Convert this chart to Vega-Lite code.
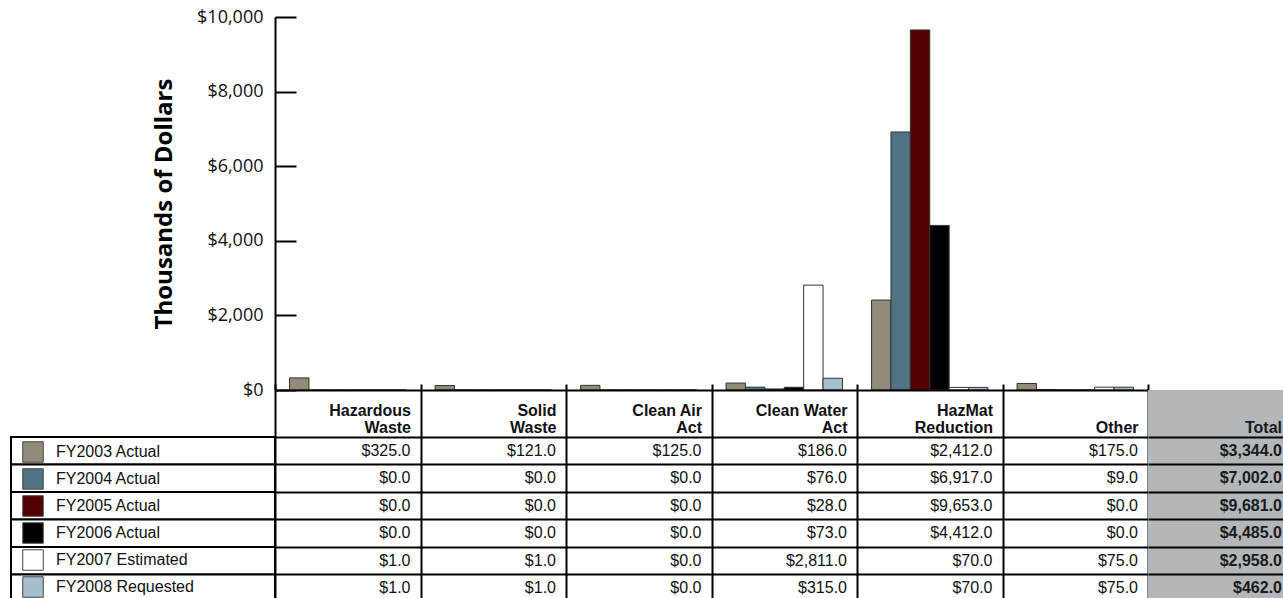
{
  "$schema": "https://vega.github.io/schema/vega-lite/v6.json",
  "padding": {"left": 10, "top": 8, "right": 0, "bottom": 0},
  "background": "#ffffff",
  "columns": 3,
  "spacing": 0,
  "bounds": "flush",
  "align": "each",
  "datasets": {
    "budget": [
      {"category": "Hazardous Waste", "series": "FY2003 Actual", "value": 325},
      {"category": "Hazardous Waste", "series": "FY2004 Actual", "value": 0},
      {"category": "Hazardous Waste", "series": "FY2005 Actual", "value": 0},
      {"category": "Hazardous Waste", "series": "FY2006 Actual", "value": 0},
      {"category": "Hazardous Waste", "series": "FY2007 Estimated", "value": 1},
      {"category": "Hazardous Waste", "series": "FY2008 Requested", "value": 1},
      {"category": "Solid Waste", "series": "FY2003 Actual", "value": 121},
      {"category": "Solid Waste", "series": "FY2004 Actual", "value": 0},
      {"category": "Solid Waste", "series": "FY2005 Actual", "value": 0},
      {"category": "Solid Waste", "series": "FY2006 Actual", "value": 0},
      {"category": "Solid Waste", "series": "FY2007 Estimated", "value": 1},
      {"category": "Solid Waste", "series": "FY2008 Requested", "value": 1},
      {"category": "Clean Air Act", "series": "FY2003 Actual", "value": 125},
      {"category": "Clean Air Act", "series": "FY2004 Actual", "value": 0},
      {"category": "Clean Air Act", "series": "FY2005 Actual", "value": 0},
      {"category": "Clean Air Act", "series": "FY2006 Actual", "value": 0},
      {"category": "Clean Air Act", "series": "FY2007 Estimated", "value": 0},
      {"category": "Clean Air Act", "series": "FY2008 Requested", "value": 0},
      {"category": "Clean Water Act", "series": "FY2003 Actual", "value": 186},
      {"category": "Clean Water Act", "series": "FY2004 Actual", "value": 76},
      {"category": "Clean Water Act", "series": "FY2005 Actual", "value": 28},
      {"category": "Clean Water Act", "series": "FY2006 Actual", "value": 73},
      {"category": "Clean Water Act", "series": "FY2007 Estimated", "value": 2811},
      {"category": "Clean Water Act", "series": "FY2008 Requested", "value": 315},
      {"category": "HazMat Reduction", "series": "FY2003 Actual", "value": 2412},
      {"category": "HazMat Reduction", "series": "FY2004 Actual", "value": 6917},
      {"category": "HazMat Reduction", "series": "FY2005 Actual", "value": 9653},
      {"category": "HazMat Reduction", "series": "FY2006 Actual", "value": 4412},
      {"category": "HazMat Reduction", "series": "FY2007 Estimated", "value": 70},
      {"category": "HazMat Reduction", "series": "FY2008 Requested", "value": 70},
      {"category": "Other", "series": "FY2003 Actual", "value": 175},
      {"category": "Other", "series": "FY2004 Actual", "value": 9},
      {"category": "Other", "series": "FY2005 Actual", "value": 0},
      {"category": "Other", "series": "FY2006 Actual", "value": 0},
      {"category": "Other", "series": "FY2007 Estimated", "value": 75},
      {"category": "Other", "series": "FY2008 Requested", "value": 75}
    ],
    "totals": [
      {"column": "Total", "series": "FY2003 Actual", "total": 3344},
      {"column": "Total", "series": "FY2004 Actual", "total": 7002},
      {"column": "Total", "series": "FY2005 Actual", "total": 9681},
      {"column": "Total", "series": "FY2006 Actual", "total": 4485},
      {"column": "Total", "series": "FY2007 Estimated", "total": 2958},
      {"column": "Total", "series": "FY2008 Requested", "total": 462}
    ]
  },
  "concat": [
    {
      "width": 264, "height": 373,
      "data": {"values": [{}]},
      "mark": {"type": "text", "text": ""},
      "encoding": {}
    },
    {
      "width": 873, "height": 373,
      "data": {"name": "budget"},
      "mark": {"type": "bar", "stroke": "#333333", "strokeWidth": 1},
      "encoding": {
        "x": {"field": "category", "type": "nominal", "sort": ["Hazardous Waste", "Solid Waste", "Clean Air Act", "Clean Water Act", "HazMat Reduction", "Other"], "scale": {"paddingInner": 0.2, "paddingOuter": 0.1}, "axis": null},
        "xOffset": {"field": "series", "type": "nominal", "sort": ["FY2003 Actual", "FY2004 Actual", "FY2005 Actual", "FY2006 Actual", "FY2007 Estimated", "FY2008 Requested"], "scale": {"paddingInner": 0, "paddingOuter": 0}},
        "y": {"field": "value", "type": "quantitative", "scale": {"domain": [0, 10000], "nice": false},
          "axis": {"values": [0, 2000, 4000, 6000, 8000, 10000], "labelExpr": "'$' + format(datum.value, ',')", "title": "Thousands of Dollars", "titleFont": "Open Sans", "titleFontSize": 24, "titleFontWeight": "bold", "titleColor": "#000000", "titlePadding": 20, "labelFont": "Open Sans", "labelFontSize": 18, "labelColor": "#111111", "domainColor": "#000000", "domainWidth": 2, "tickColor": "#000000", "tickWidth": 2, "tickSize": -21, "labelPadding": 33, "grid": false}},
        "color": {"field": "series", "type": "nominal", "sort": ["FY2003 Actual", "FY2004 Actual", "FY2005 Actual", "FY2006 Actual", "FY2007 Estimated", "FY2008 Requested"],
          "scale": {"domain": ["FY2003 Actual", "FY2004 Actual", "FY2005 Actual", "FY2006 Actual", "FY2007 Estimated", "FY2008 Requested"], "range": ["#938b79", "#517283", "#520000", "#000000", "#ffffff", "#a3bfd0"]},
          "legend": {"orient": "none", "legendX": 11, "legendY": 424, "title": null, "symbolType": "square", "symbolSize": 420, "symbolStrokeColor": "#444444", "symbolStrokeWidth": 1, "symbolOpacity": 1, "labelFont": "Liberation Sans", "labelFontSize": 16, "labelColor": "#111111", "labelOffset": 12, "rowPadding": 1, "padding": 0, "labelLimit": 300}}
      }
    },
    {
      "width": 136, "height": 373,
      "data": {"values": [{}]},
      "mark": {"type": "text", "text": ""},
      "encoding": {}
    },
    {
      "width": 264, "height": 212,
      "data": {"name": "totals"},
      "mark": {"type": "rect", "fill": "#ffffff", "stroke": "#000000", "strokeWidth": 2},
      "encoding": {
        "y": {"field": "series", "type": "nominal", "sort": ["FY2003 Actual", "FY2004 Actual", "FY2005 Actual", "FY2006 Actual", "FY2007 Estimated", "FY2008 Requested"], "scale": {"paddingInner": 0, "paddingOuter": 0.8545, "align": 1}, "axis": null}
      }
    },
    {
      "width": 873, "height": 212,
      "data": {"name": "budget"},
      "mark": {"type": "text", "align": "right", "baseline": "middle", "dx": -10, "font": "Liberation Sans", "fontSize": 16, "color": "#111111"},
      "encoding": {
        "x": {"field": "category", "type": "nominal", "sort": ["Hazardous Waste", "Solid Waste", "Clean Air Act", "Clean Water Act", "HazMat Reduction", "Other"], "bandPosition": 1, "scale": {"type": "band", "paddingInner": 0, "paddingOuter": 0},
          "axis": {"orient": "top", "title": null, "domainColor": "#000000", "domainWidth": 2, "ticks": true, "tickBand": "extent", "tickSize": 6, "tickColor": "#000000", "tickWidth": 2, "grid": true, "gridColor": "#000000", "gridWidth": 2, "gridOpacity": 1, "labelAngle": 0, "labelAlign": "right", "labelBaseline": "bottom", "labelOffset": 62.75, "labelPadding": -34, "labelFont": "Liberation Sans", "labelFontWeight": "bold", "labelFontSize": 16, "labelColor": "#111111", "labelLineHeight": 17, "labelBound": false, "labelOverlap": false, "labelFlush": false,
            "labelExpr": "lastindexof(datum.label, ' ') < 0 ? ['', datum.label] : [substring(datum.label, 0, lastindexof(datum.label, ' ')), substring(datum.label, lastindexof(datum.label, ' ') + 1)]"}},
        "y": {"field": "series", "type": "nominal", "sort": ["FY2003 Actual", "FY2004 Actual", "FY2005 Actual", "FY2006 Actual", "FY2007 Estimated", "FY2008 Requested"], "scale": {"paddingInner": 0, "paddingOuter": 0.8545, "align": 1},
          "axis": {"grid": true, "tickBand": "extent", "labels": false, "ticks": false, "domain": false, "title": null, "gridColor": "#000000", "gridWidth": 2, "gridOpacity": 1}},
        "text": {"field": "value", "type": "quantitative", "format": "$,.1f"}
      }
    },
    {
      "width": 136, "height": 212,
      "data": {"name": "totals"},
      "view": {"fill": "#b3b7b9", "stroke": null},
      "mark": {"type": "text", "align": "right", "baseline": "middle", "dx": -2, "font": "Liberation Sans", "fontSize": 16, "fontWeight": "bold", "color": "#1a1a1a"},
      "encoding": {
        "x": {"field": "column", "type": "nominal", "bandPosition": 1, "scale": {"type": "band", "domain": ["Total"], "paddingInner": 0, "paddingOuter": 0},
          "axis": {"orient": "top", "title": null, "domain": false, "ticks": false, "grid": false, "labelAngle": 0, "labelAlign": "right", "labelBaseline": "bottom", "labelOffset": 66, "labelPadding": -45, "labelFont": "Liberation Sans", "labelFontWeight": "bold", "labelFontSize": 16, "labelColor": "#1a1a1a", "labelBound": false, "labelOverlap": false, "labelFlush": false}},
        "y": {"field": "series", "type": "nominal", "sort": ["FY2003 Actual", "FY2004 Actual", "FY2005 Actual", "FY2006 Actual", "FY2007 Estimated", "FY2008 Requested"], "scale": {"paddingInner": 0, "paddingOuter": 0.8545, "align": 1},
          "axis": {"grid": true, "tickBand": "extent", "labels": false, "ticks": false, "domain": false, "title": null, "gridColor": "#000000", "gridWidth": 2, "gridOpacity": 1}},
        "text": {"field": "total", "type": "quantitative", "format": "$,.1f"}
      }
    }
  ],
  "config": {
    "view": {"stroke": null},
    "axis": {"gridOpacity": 1}
  }
}
